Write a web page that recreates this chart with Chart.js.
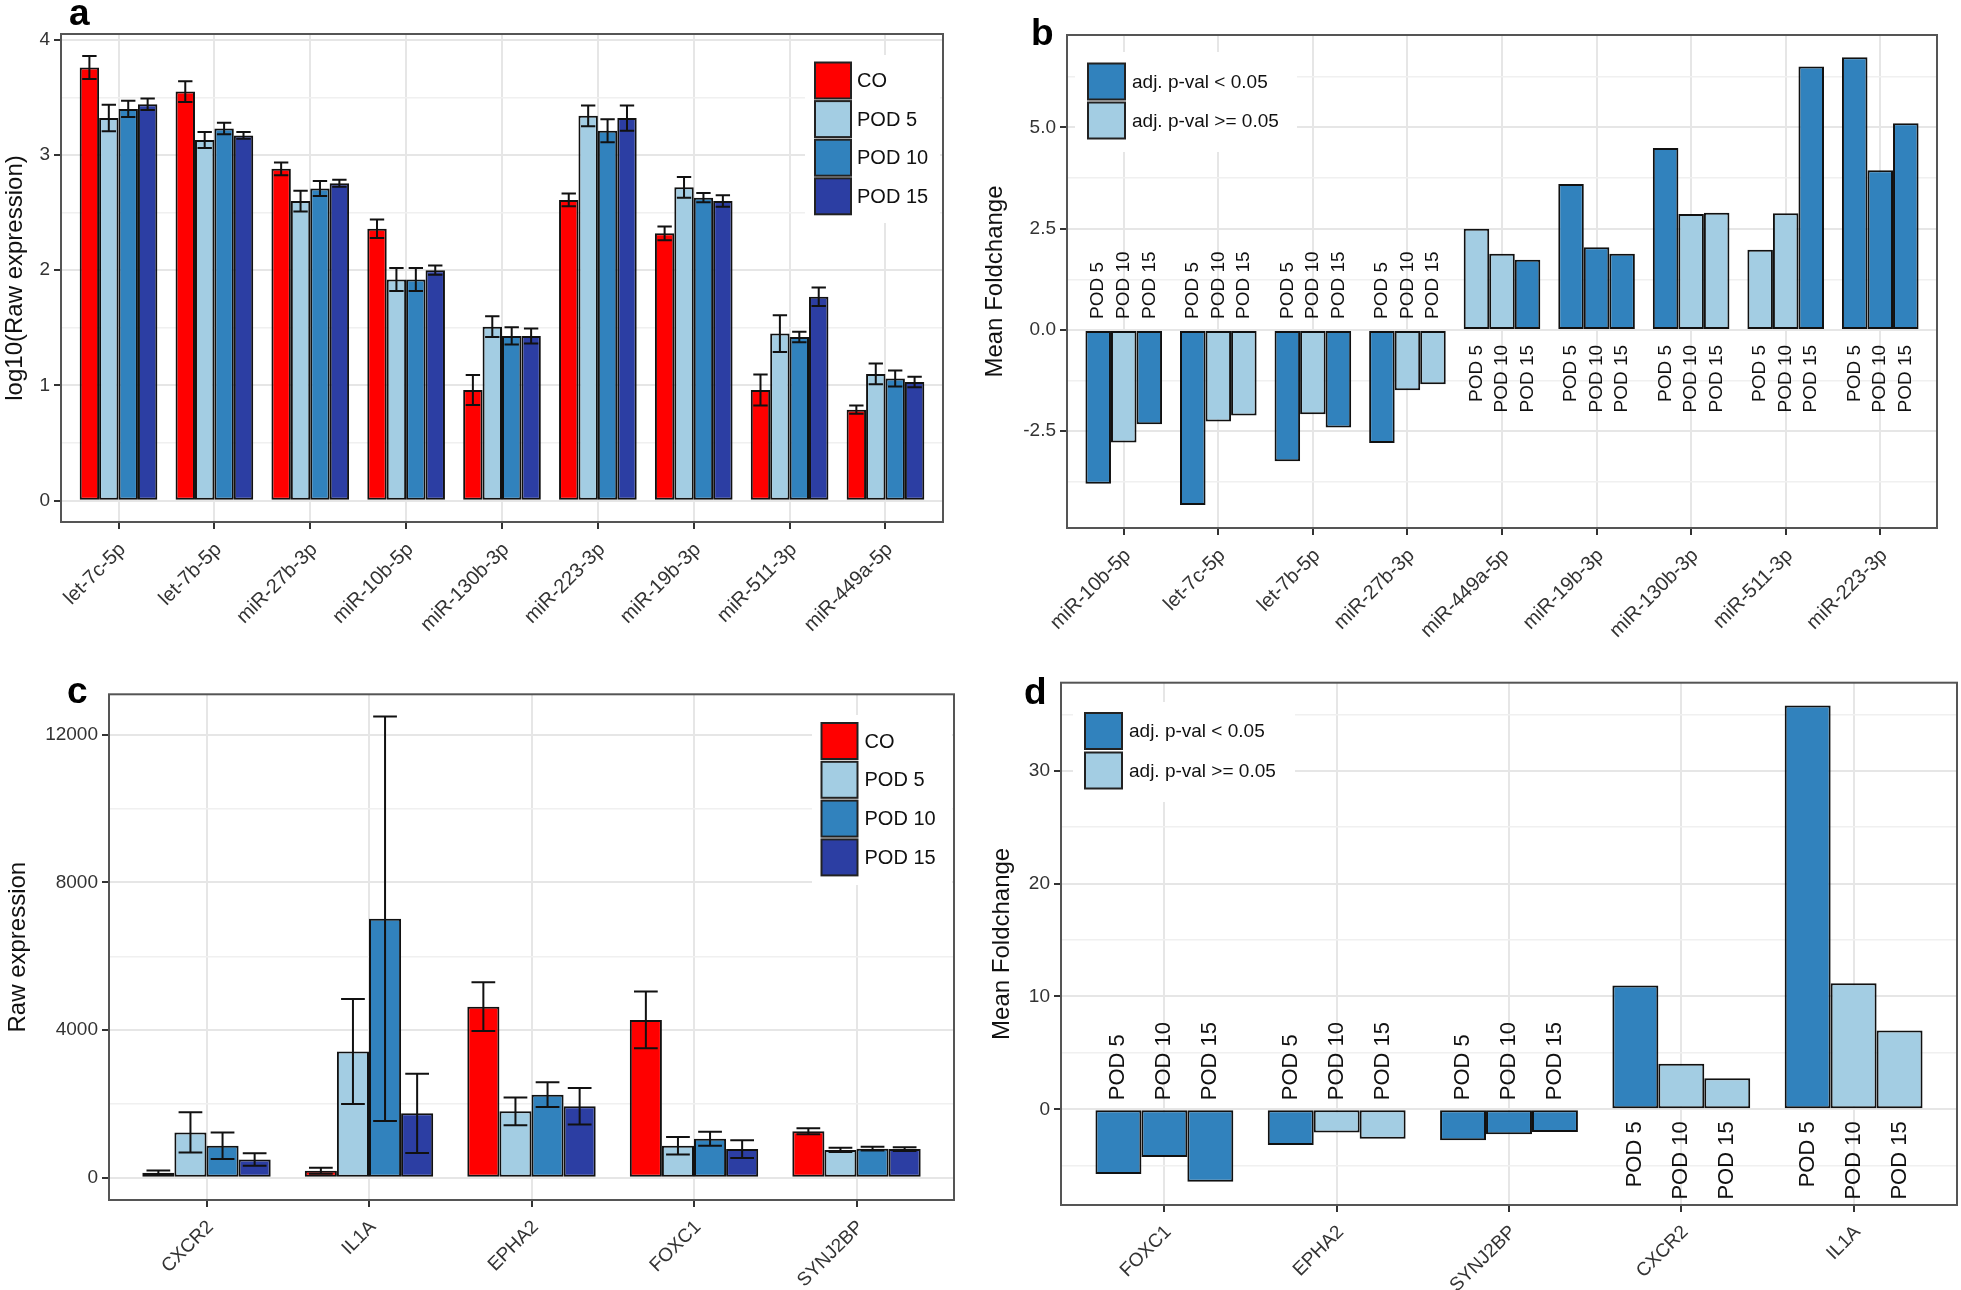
<!DOCTYPE html>
<html>
<head>
<meta charset="utf-8">
<script src="https://cdn.jsdelivr.net/npm/chart.js@4.4.1/dist/chart.umd.min.js"></script>
<style>
  html, body { margin: 0; padding: 0; background: #fff; }
  body { width: 1961px; height: 1290px; position: relative; overflow: hidden; }
  canvas { position: absolute; }
</style>
</head>
<body>
<canvas id="pa" width="960" height="640" style="left:0;top:0"></canvas>
<canvas id="pb" width="1001" height="640" style="left:960px;top:0"></canvas>
<canvas id="pc" width="960" height="650" style="left:0;top:640px"></canvas>
<canvas id="pd" width="1001" height="650" style="left:960px;top:640px"></canvas>
<script>
/* 4-panel miRNA / gene expression figure (a-d) */
const FONT = "'Liberation Sans', Arial, Helvetica, sans-serif";
const RED = '#FF0000', LIGHT = '#A3CDE3', MID = '#3182BD', DARK = '#2C3EA3';

// ---- panel a: log10 raw expression of miRNAs ----
const aCategories = ['let-7c-5p', 'let-7b-5p', 'miR-27b-3p', 'miR-10b-5p', 'miR-130b-3p', 'miR-223-3p', 'miR-19b-3p', 'miR-511-3p', 'miR-449a-5p'];
const aSeries = ['CO', 'POD 5', 'POD 10', 'POD 15'];
const aCO        = [3.76, 3.55, 2.88, 2.36, 0.96, 2.61, 2.32, 0.96, 0.79];
const aCOErr     = [0.10, 0.09, 0.055, 0.08, 0.13, 0.055, 0.06, 0.135, 0.035];
const aPOD5      = [3.32, 3.13, 2.60, 1.92, 1.51, 3.34, 2.72, 1.45, 1.10];
const aPOD5Err   = [0.115, 0.07, 0.09, 0.10, 0.09, 0.09, 0.09, 0.16, 0.09];
const aPOD10     = [3.40, 3.23, 2.71, 1.92, 1.43, 3.21, 2.63, 1.42, 1.06];
const aPOD10Err  = [0.07, 0.05, 0.065, 0.10, 0.075, 0.10, 0.04, 0.045, 0.07];
const aPOD15     = [3.44, 3.17, 2.755, 2.00, 1.43, 3.32, 2.60, 1.77, 1.03];
const aPOD15Err  = [0.05, 0.03, 0.03, 0.04, 0.065, 0.11, 0.05, 0.08, 0.045];
const aYTicks = [0, 1, 2, 3, 4];
const aYTickLabels = ['0', '1', '2', '3', '4'];
const aYMinor = [0.5, 1.5, 2.5, 3.5];

// ---- panel b: mean foldchange of miRNAs ----
const bCategories = ['miR-10b-5p', 'let-7c-5p', 'let-7b-5p', 'miR-27b-3p', 'miR-449a-5p', 'miR-19b-3p', 'miR-130b-3p', 'miR-511-3p', 'miR-223-3p'];
const podSeries = ['POD 5', 'POD 10', 'POD 15'];
const bPOD5  = [-3.80, -4.32, -3.24, -2.79, 2.50, 3.60, 4.49, 1.98, 6.73];
const bPOD10 = [-2.78, -2.26, -2.08, -1.49, 1.88, 2.04, 2.86, 2.88, 3.94];
const bPOD15 = [-2.33, -2.11, -2.41, -1.34, 1.73, 1.88, 2.89, 6.50, 5.10];
const bPOD5Sig  = [1, 1, 1, 1, 0, 1, 1, 0, 1];
const bPOD10Sig = [0, 0, 0, 0, 0, 1, 0, 0, 1];
const bPOD15Sig = [1, 0, 1, 0, 1, 1, 0, 1, 1];
const bYTicks = [-2.5, 0, 2.5, 5];
const bYTickLabels = ['-2.5', '0.0', '2.5', '5.0'];
const bYMinor = [-3.75, -1.25, 1.25, 3.75, 6.25];

// ---- panel c: raw expression of genes ----
const cCategories = ['CXCR2', 'IL1A', 'EPHA2', 'FOXC1', 'SYNJ2BP'];
const cCO       = [135, 190, 4635, 4275, 1260];
const cCOErr    = [60, 80, 660, 770, 80];
const cPOD5     = [1226, 3420, 1800, 866, 754];
const cPOD5Err  = [545, 1420, 375, 235, 55];
const cPOD10    = [866, 7020, 2250, 1057, 787];
const cPOD10Err = [360, 5480, 335, 190, 50];
const cPOD15    = [495, 1744, 1935, 776, 776];
const cPOD15Err = [170, 1075, 495, 240, 50];
const cYTicks = [0, 4000, 8000, 12000];
const cYTickLabels = ['0', '4000', '8000', '12000'];
const cYMinor = [2000, 6000, 10000];

// ---- panel d: mean foldchange of genes ----
const dCategories = ['FOXC1', 'EPHA2', 'SYNJ2BP', 'CXCR2', 'IL1A'];
const dPOD5  = [-5.73, -3.16, -2.75, 10.98, 35.77];
const dPOD10 = [-4.22, -2.06, -2.20, 4.04, 11.16];
const dPOD15 = [-6.43, -2.61, -2.02, 2.75, 6.98];
const dPOD5Sig  = [1, 1, 1, 1, 1];
const dPOD10Sig = [1, 0, 1, 0, 0];
const dPOD15Sig = [1, 0, 1, 0, 0];
const dYTicks = [0, 10, 20, 30];
const dYTickLabels = ['0', '10', '20', '30'];
const dYMinor = [-5, 5, 15, 25, 35];

const sigLabels = ['adj. p-val < 0.05', 'adj. p-val >= 0.05'];

const pts = (arr) => arr.map((v, i) => ({ x: i + 1, y: v }));
const sigColors = (sig) => sig.map(s => s ? MID : LIGHT);

const gridFor = (majors) => {
  const isMaj = (c) => c.tick && majors.includes(c.tick.value);
  return {
    color: c => isMaj(c) ? '#E6E6E6' : '#F0F0F0',
    lineWidth: c => isMaj(c) ? 2 : 1.5,
    tickColor: c => isMaj(c) ? '#333' : 'rgba(0,0,0,0)',
    tickWidth: 2, tickLength: 7, drawTicks: true, offset: false
  };
};

const panelPlugin = (p) => ({
  id: 'panel_' + p.letter,
  afterDatasetsDraw(chart) {
    const ctx = chart.ctx, ys = chart.scales.y;
    ctx.save();
    // error bars
    if (p.errors) {
      ctx.strokeStyle = '#111';
      ctx.lineWidth = 2;
      p.errors.forEach((errs, i) => {
        chart.getDatasetMeta(i).data.forEach((bar, j) => {
          const v = chart.data.datasets[i].data[j].y;
          const y1 = ys.getPixelForValue(v + errs[j]);
          const y2 = ys.getPixelForValue(v - errs[j]);
          const hw = bar.width * 0.37;
          ctx.beginPath();
          ctx.moveTo(bar.x, y1); ctx.lineTo(bar.x, y2);
          ctx.moveTo(bar.x - hw, y1); ctx.lineTo(bar.x + hw, y1);
          ctx.moveTo(bar.x - hw, y2); ctx.lineTo(bar.x + hw, y2);
          ctx.stroke();
        });
      });
    }
    // POD labels next to the zero line
    if (p.podLabels) {
      const zero = ys.getPixelForValue(0);
      ctx.fillStyle = '#111';
      ctx.font = `${p.podLabels.size}px ${FONT}`;
      ctx.textBaseline = 'middle';
      chart.data.datasets.forEach((ds, i) => {
        chart.getDatasetMeta(i).data.forEach((bar, j) => {
          const v = ds.data[j].y;
          ctx.save();
          ctx.translate(bar.x, v < 0 ? zero - p.podLabels.neg : zero + p.podLabels.pos);
          ctx.rotate(-Math.PI / 2);
          ctx.textAlign = v < 0 ? 'left' : 'right';
          ctx.fillText(ds.label, 0, 0);
          ctx.restore();
        });
      });
    }
    ctx.restore();
  },
  afterDraw(chart) {
    const ctx = chart.ctx, a = chart.chartArea;
    ctx.save();
    const L = p.legend;
    ctx.fillStyle = '#fff';
    ctx.fillRect(L.bg[0], L.bg[1], L.bg[2], L.bg[3]);
    L.items.forEach((it, k) => {
      const ky = L.y + k * L.step;
      ctx.fillStyle = it.color;
      ctx.fillRect(L.x, ky, L.w, L.h);
      ctx.lineWidth = 2;
      ctx.strokeStyle = '#222';
      ctx.strokeRect(L.x, ky, L.w, L.h);
      ctx.fillStyle = '#111';
      ctx.font = `${L.font}px ${FONT}`;
      ctx.textAlign = 'left';
      ctx.textBaseline = 'middle';
      ctx.fillText(it.text, L.x + L.w + L.gap, ky + L.h / 2 + 1);
    });
    // panel border
    ctx.strokeStyle = '#555';
    ctx.lineWidth = 2;
    ctx.strokeRect(a.left, a.top, a.right - a.left, a.bottom - a.top);
    // panel letter
    ctx.fillStyle = '#000';
    ctx.font = `bold 37px ${FONT}`;
    ctx.textAlign = 'left';
    ctx.textBaseline = 'alphabetic';
    ctx.fillText(p.letter, p.lx, p.ly);
    ctx.restore();
  }
});

function makeChart(id, cfg) {
  return new Chart(document.getElementById(id), {
    type: 'bar',
    data: { datasets: cfg.datasets },
    options: {
      responsive: false,
      animation: false,
      events: [],
      layout: { padding: { top: cfg.padTop, right: cfg.padRight, left: 0, bottom: 0 } },
      plugins: { legend: { display: false }, tooltip: { enabled: false } },
      datasets: {
        bar: { categoryPercentage: cfg.group, barPercentage: 1, borderWidth: 2, borderColor: '#111', borderSkipped: false }
      },
      scales: {
        x: {
          type: 'linear', min: 0.4, max: cfg.cats.length + 0.6, offset: false,
          afterBuildTicks: s => { s.ticks = cfg.cats.map((c, i) => ({ value: i + 1 })); },
          afterFit: s => { s.height = cfg.xh; },
          grid: { color: '#E6E6E6', lineWidth: 2, tickColor: '#333', tickWidth: 2, tickLength: 7, offset: false },
          border: { display: false },
          ticks: {
            autoSkip: false, minRotation: 45, maxRotation: 45, padding: 9, labelOffset: 4, color: '#333',
            font: { family: FONT, size: cfg.xFont },
            callback: v => cfg.cats[Math.round(v) - 1] ?? ''
          }
        },
        y: {
          type: 'linear', min: cfg.ymin, max: cfg.ymax,
          afterBuildTicks: s => {
            s.ticks = [...cfg.yMajor, ...cfg.yMinor].sort((m, n) => m - n).map(v => ({ value: v }));
          },
          afterFit: s => { s.width = cfg.yw; },
          grid: gridFor(cfg.yMajor),
          border: { display: false },
          ticks: {
            padding: 4, color: '#333', font: { family: FONT, size: 19 },
            callback: v => { const k = cfg.yMajor.indexOf(v); return k < 0 ? '' : cfg.yLabels[k]; }
          },
          title: {
            display: true, text: cfg.yTitle, color: '#111',
            font: { family: FONT, size: 24 }, padding: { top: cfg.titlePad, bottom: 0 }
          }
        }
      }
    },
    plugins: [panelPlugin(cfg)]
  });
}

const seriesColors = [RED, LIGHT, MID, DARK];
const legendA = aSeries.map((s, i) => ({ text: s, color: seriesColors[i] }));
const legendSig = [{ text: sigLabels[0], color: MID }, { text: sigLabels[1], color: LIGHT }];

makeChart('pa', {
  letter: 'a', lx: 69, ly: 25,
  cats: aCategories, group: 0.81, xFont: 20,
  datasets: [aCO, aPOD5, aPOD10, aPOD15].map((d, i) => ({ label: aSeries[i], data: pts(d), backgroundColor: seriesColors[i] })),
  errors: [aCOErr, aPOD5Err, aPOD10Err, aPOD15Err],
  padTop: 34, padRight: 17, yw: 61, xh: 118,
  ymin: -0.185, ymax: 4.05, yMajor: aYTicks, yLabels: aYTickLabels, yMinor: aYMinor,
  yTitle: 'log10(Raw expression)', titlePad: 1,
  legend: { bg: [805, 55, 135, 168], x: 815, y: 62.5, w: 36, h: 36, step: 38.6, font: 20, gap: 6, items: legendA }
});

makeChart('pb', {
  letter: 'b', lx: 71, ly: 45,
  cats: bCategories, group: 0.81, xFont: 20,
  datasets: [[bPOD5, bPOD5Sig], [bPOD10, bPOD10Sig], [bPOD15, bPOD15Sig]].map(([d, s], i) => ({ label: podSeries[i], data: pts(d), backgroundColor: sigColors(s) })),
  podLabels: { size: 19, neg: 11, pos: 15 },
  padTop: 35, padRight: 24, yw: 107, xh: 112,
  ymin: -4.89, ymax: 7.28, yMajor: bYTicks, yLabels: bYTickLabels, yMinor: bYMinor,
  yTitle: 'Mean Foldchange', titlePad: 21,
  legend: { bg: [115, 52, 222, 100], x: 128, y: 63.5, w: 37, h: 36, step: 39, font: 19, gap: 7, items: legendSig }
});

makeChart('pc', {
  letter: 'c', lx: 67, ly: 63,
  cats: cCategories, group: 0.79, xFont: 19,
  datasets: [cCO, cPOD5, cPOD10, cPOD15].map((d, i) => ({ label: aSeries[i], data: pts(d), backgroundColor: seriesColors[i] })),
  errors: [cCOErr, cPOD5Err, cPOD10Err, cPOD15Err],
  padTop: 54.3, padRight: 6, yw: 109, xh: 90,
  ymin: -604, ymax: 13100, yMajor: cYTicks, yLabels: cYTickLabels, yMinor: cYMinor,
  yTitle: 'Raw expression', titlePad: 4,
  legend: { bg: [812, 75, 140, 170], x: 821.5, y: 83, w: 36, h: 36, step: 38.8, font: 20, gap: 7, items: legendA }
});

makeChart('pd', {
  letter: 'd', lx: 64, ly: 64,
  cats: dCategories, group: 0.8, xFont: 19,
  datasets: [[dPOD5, dPOD5Sig], [dPOD10, dPOD10Sig], [dPOD15, dPOD15Sig]].map(([d, s], i) => ({ label: podSeries[i], data: pts(d), backgroundColor: sigColors(s) })),
  podLabels: { size: 22, neg: 9, pos: 12 },
  padTop: 42.7, padRight: 4, yw: 101, xh: 85,
  ymin: -8.48, ymax: 37.8, yMajor: dYTicks, yLabels: dYTickLabels, yMinor: dYMinor,
  yTitle: 'Mean Foldchange', titlePad: 28,
  legend: { bg: [113, 62, 222, 100], x: 125, y: 73, w: 37, h: 36, step: 39.5, font: 19, gap: 7, items: legendSig }
});
</script>
</body>
</html>
